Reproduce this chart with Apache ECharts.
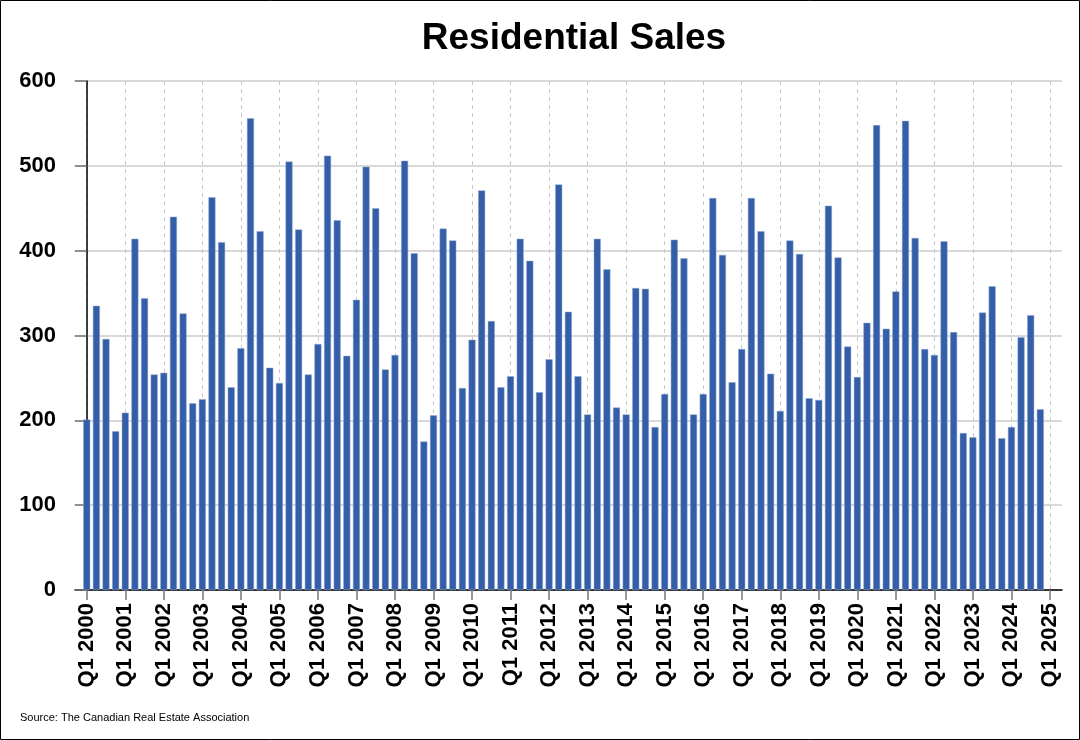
<!DOCTYPE html>
<html>
<head>
<meta charset="utf-8">
<script src="https://cdn.jsdelivr.net/npm/echarts@6/dist/echarts.min.js"></script>
<style>
  html, body { margin: 0; padding: 0; background: #fff; }
  #chart { width: 1080px; height: 740px; }
</style>
</head>
<body>
<div id="chart"></div>
<script>
// Quarterly residential sales, Q1 2000 .. Q4 2024
const quarterIndex = [];
const salesValues = [
  201, 335, 296, 187,   // 2000
  209, 414, 344, 254,   // 2001
  256, 440, 326, 220,   // 2002
  225, 463, 410, 239,   // 2003
  285, 556, 423, 262,   // 2004
  244, 505, 425, 254,   // 2005
  290, 512, 436, 276,   // 2006
  342, 499, 450, 260,   // 2007
  277, 506, 397, 175,   // 2008
  206, 426, 412, 238,   // 2009
  295, 471, 317, 239,   // 2010
  252, 414, 388, 233,   // 2011
  272, 478, 328, 252,   // 2012
  207, 414, 378, 215,   // 2013
  207, 356, 355, 192,   // 2014
  231, 413, 391, 207,   // 2015
  231, 462, 395, 245,   // 2016
  284, 462, 423, 255,   // 2017
  211, 412, 396, 226,   // 2018
  224, 453, 392, 287,   // 2019
  251, 315, 548, 308,   // 2020
  352, 553, 415, 284,   // 2021
  277, 411, 304, 185,   // 2022
  180, 327, 358, 179,   // 2023
  192, 298, 324, 213    // 2024
];
for (let i = 0; i < salesValues.length; i++) quarterIndex.push(i);

const tickLabels = [
  'Q1 2000','Q1 2001','Q1 2002','Q1 2003','Q1 2004','Q1 2005','Q1 2006',
  'Q1 2007','Q1 2008','Q1 2009','Q1 2010','Q1 2011','Q1 2012','Q1 2013',
  'Q1 2014','Q1 2015','Q1 2016','Q1 2017','Q1 2018','Q1 2019','Q1 2020',
  'Q1 2021','Q1 2022','Q1 2023','Q1 2024','Q1 2025'
];
const tickPositions = tickLabels.map((_, k) => k * 4);

const titleText = 'Residential Sales';
const sourceText = 'Source: The Canadian Real Estate Association';

const FONT = '"Liberation Sans", Arial, Helvetica, sans-serif';

const chart = echarts.init(document.getElementById('chart'), null, { renderer: 'canvas' });
chart.setOption({
  animation: false,
  backgroundColor: '#ffffff',
  title: {
    text: titleText,
    left: 569,
    textAlign: 'center',
    top: 15,
    textStyle: { fontFamily: FONT, fontSize: 37, fontWeight: 'bold', color: '#000' }
  },
  grid: { left: 75, right: 18, top: 81, bottom: 150, containLabel: false },
  xAxis: {
    type: 'value',
    min: -1.22,
    max: 101.25,
    axisLine: { show: true, lineStyle: { color: '#000', width: 1.5 } },
    axisTick: {
      show: true, length: 10, customValues: tickPositions,
      lineStyle: { color: '#777', width: 1.5 }
    },
    axisLabel: {
      customValues: tickPositions,
      rotate: 90,
      margin: 13,
      formatter: v => tickLabels[Math.round(v / 4)],
      fontFamily: FONT, fontSize: 22, fontWeight: 'bold', color: '#000'
    },
    splitLine: { show: true, lineStyle: { color: '#c8c8c8', type: [4, 4], width: 1 } }
  },
  yAxis: {
    type: 'value',
    min: 0, max: 600, interval: 100,
    axisLine: { show: true, lineStyle: { color: '#000', width: 1.5 } },
    axisTick: { show: true, length: 12, lineStyle: { color: '#777', width: 1.5 } },
    axisLabel: {
      margin: 19,
      fontFamily: FONT, fontSize: 22, fontWeight: 'bold', color: '#000'
    },
    splitLine: { show: true, lineStyle: { color: '#cccccc', width: 1.5 } }
  },
  series: [{
    type: 'bar',
    data: quarterIndex.map(i => [i, salesValues[i]]),
    barWidth: 7,
    itemStyle: { color: '#345ea8', borderColor: '#8fa6d2', borderWidth: 0.5 }
  }],
  graphic: [
    {
      type: 'text', left: 20, top: 712,
      style: { text: sourceText, font: '11px ' + FONT, fill: '#000' }
    },
    {
      type: 'rect', silent: true,
      shape: { x: 0.5, y: 0.5, width: 1079, height: 739 },
      style: { fill: 'none', stroke: '#000', lineWidth: 1 }
    }
  ]
});
</script>
</body>
</html>
